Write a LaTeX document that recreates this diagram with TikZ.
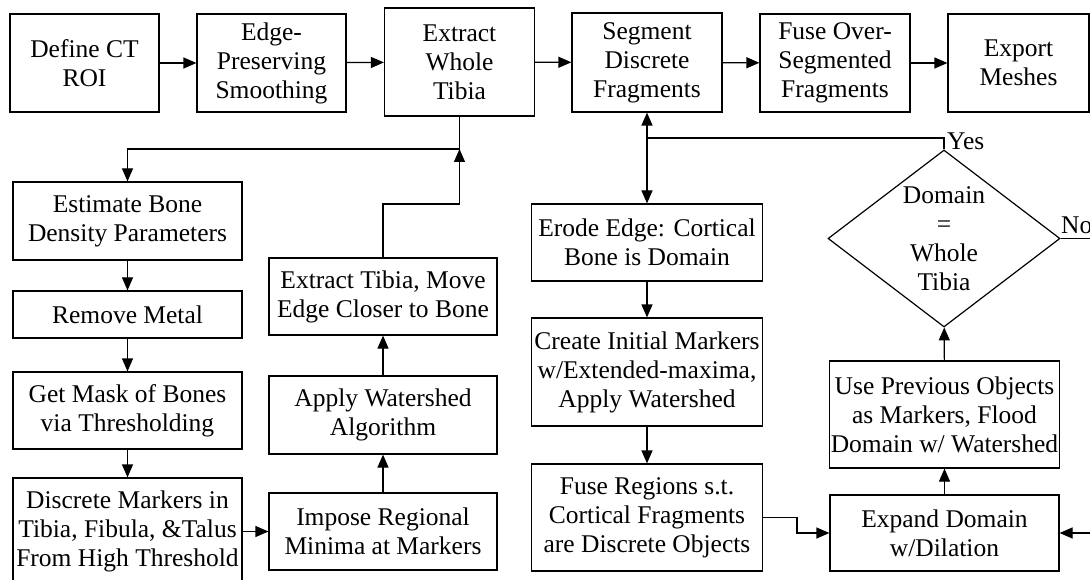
\documentclass[tikz,border=0pt]{standalone}
\usepackage{fontspec}
\setmainfont{Liberation Serif}
\usetikzlibrary{arrows.meta,shapes.geometric}
\begin{document}
\begin{tikzpicture}[x=1pt,y=-1pt,
  every node/.style={font=\fontsize{25.5pt}{29pt}\selectfont},
  stepbox/.style={draw, line width=1.2pt, inner sep=1pt, align=center, anchor=center},
  decision/.style={draw, diamond, line width=1.2pt, inner sep=0pt, aspect=1.3, align=center},
  conn/.style={line width=1.2pt},
  arr/.style={conn, -{Triangle[length=13pt,width=11pt]}},
  arrtwo/.style={conn, {Triangle[length=13pt,width=11pt]}-{Triangle[length=13pt,width=11pt]}},
  lbl/.style={inner sep=0pt}
]
\useasboundingbox (0,0) rectangle (1090,580);
\clip (0,0) rectangle (1090,580);
\fill[white] (0,0) rectangle (1090,580);

% top row
\node[stepbox, minimum width=149, minimum height=98] (def) at (84.5,63) {Define CT\\ROI};
\node[stepbox, minimum width=149, minimum height=98] (edge) at (271.5,63) {Edge-\\Preserving\\Smoothing};
\node[stepbox, minimum width=150, minimum height=108] (ext) at (459.5,62) {Extract\\Whole\\Tibia};
\node[stepbox, minimum width=150, minimum height=99] (seg) at (647,62.5) {Segment\\Discrete\\Fragments};
\node[stepbox, minimum width=150, minimum height=98] (fuse) at (835,63) {Fuse Over-\\Segmented\\Fragments};
\node[stepbox, minimum width=141, minimum height=98] (expo) at (1018.5,63) {Export\\Meshes};

% left column
\node[stepbox, minimum width=229, minimum height=78] (est) at (127.5,221) {Estimate Bone\\Density Parameters};
\node[stepbox, minimum width=229, minimum height=47] (rm) at (127.5,314.5) {Remove Metal};
\node[stepbox, minimum width=229, minimum height=77] (mask) at (127.5,410.5) {Get Mask of Bones\\via Thresholding};
\node[stepbox, minimum width=229, minimum height=107] (disc) at (127.5,531.5) {Discrete Markers in\\Tibia, Fibula, \&Talus\\From High Threshold};

% middle-left column
\node[stepbox, minimum width=228, minimum height=77] (etm) at (383,296.5) {Extract Tibia, Move\\Edge Closer to Bone};
\node[stepbox, minimum width=228, minimum height=78] (aw) at (383,415) {Apply Watershed\\Algorithm};
\node[stepbox, minimum width=228, minimum height=77] (irm) at (383,531.5) {Impose Regional\\Minima at Markers};

% middle-right column
\node[stepbox, minimum width=231, minimum height=77] (ero) at (647,242.5) {Erode Edge: Cortical\\Bone is Domain};
\node[stepbox, minimum width=231, minimum height=108] (cim) at (647,372) {Create Initial Markers\\w/Extended-maxima,\\Apply Watershed};
\node[stepbox, minimum width=231, minimum height=107] (frs) at (647,517.5) {Fuse Regions s.t.\\Cortical Fragments\\are Discrete Objects};

% right column
\node[decision, minimum width=232, minimum height=177] (dia) at (944,238.5) {Domain\\=\\Whole\\Tibia};
\node[stepbox, minimum width=229, minimum height=107] (upo) at (944.5,414.5) {Use Previous Objects\\as Markers, Flood\\Domain w/ Watershed};
\node[stepbox, minimum width=229, minimum height=76] (exd) at (944.5,533) {Expand Domain\\w/Dilation};

% labels
\node[lbl, anchor=west] (yes) at (947,141) {Yes};
\node[lbl, anchor=base west] (no) at (1061,234) {No};

% coordinates
\coordinate (j1) at (459.5,149);
\coordinate (k1) at (459.5,204);
\coordinate (j2) at (647,138);
\coordinate (k2) at (797,517.5);
\coordinate (r1) at (1110,238.5);

% top row arrows
\draw[arr] (def) -- (edge);
\draw[arr] (edge) -- (ext);
\draw[arr] (ext) -- (seg);
\draw[arr] (seg) -- (fuse);
\draw[arr] (fuse) -- (expo);

% left branch
\draw[arr] (ext.south) -- (j1) -| (est.north);
\draw[arr] (est) -- (rm);
\draw[arr] (rm) -- (mask);
\draw[arr] (mask) -- (disc);
\draw[arr] (disc.east |- irm.west) -- (irm.west);
\draw[arr] (irm) -- (aw);
\draw[arr] (aw) -- (etm);
\draw[arr] (etm.north) |- (k1) -- (j1);

% right branch
\draw[arrtwo] (seg.south) -- (ero.north);
\draw[conn] (dia.north) |- (j2);
\draw[arr] (ero) -- (cim);
\draw[arr] (cim) -- (frs);
\draw[arr] (frs.east) -- (k2) |- (exd.west);
\draw[arr] (exd) -- (upo);
\draw[arr] (upo) -- (dia);
\draw[arr] (dia.east) -- (r1) |- (exd.east);
\end{tikzpicture}
\end{document}
